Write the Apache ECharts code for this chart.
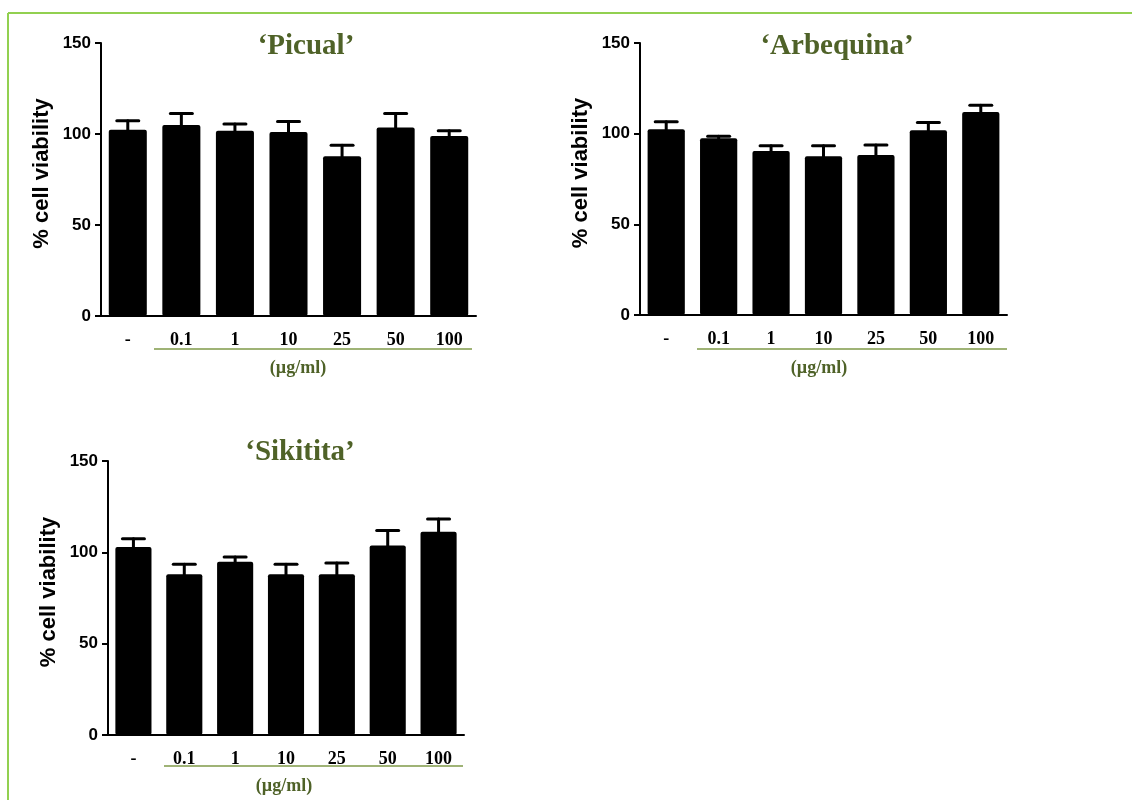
<!DOCTYPE html>
<html>
<head>
<meta charset="utf-8">
<script src="https://cdn.jsdelivr.net/npm/echarts@6/dist/echarts.min.js"></script>
<style>
html,body{margin:0;padding:0;background:#fff;}
#main{width:1132px;height:800px;}
</style>
</head>
<body>
<div id="main"></div>
<script>
// ---- data ----
var categories = ['-', '0.1', '1', '10', '25', '50', '100'];
var yTicks = [0, 50, 100, 150];
var titles = ['\u2018Picual\u2019', '\u2018Arbequina\u2019', '\u2018Sikitita\u2019'];
var picualMean = [102.4, 104.9, 101.8, 101.1, 87.8, 103.6, 98.9];
var picualErr  = [4.9, 6.4, 3.7, 5.8, 6.0, 7.7, 2.9];
var arbequinaMean = [102.4, 97.5, 90.5, 87.6, 88.3, 101.9, 112.0];
var arbequinaErr  = [4.2, 1.1, 2.8, 5.7, 5.5, 4.3, 3.7];
var sikititaMean = [102.9, 88.0, 94.8, 88.0, 88.0, 103.7, 111.2];
var sikititaErr  = [4.6, 5.5, 2.7, 5.5, 6.2, 8.3, 7.1];
var unitLabel = '(\u00b5g/ml)';
var yName = '% cell viability';

var means = [picualMean, arbequinaMean, sikititaMean];
var errs = [picualErr, arbequinaErr, sikititaErr];

var grids = [
  {left: 101, top: 43, width: 375, height: 273},
  {left: 640, top: 43, width: 367, height: 272},
  {left: 108, top: 461, width: 356, height: 274}
];
var titlePos = [[306, 47], [837, 47], [300, 453]];
var linePos = [[154, 472, 349], [697, 1007, 349], [164, 463, 766]];
var unitPos = [[298, 368], [819, 368], [284, 786]];

var olive = '#4f6228';
var lineGreen = '#7f9a48';

var xAxes = [], yAxes = [], series = [], graphics = [];
grids.forEach(function (g, i) {
  xAxes.push({
    type: 'category', gridIndex: i, data: categories,
    axisLine: {lineStyle: {color: '#000', width: 2}},
    axisTick: {alignWithLabel: true, length: 6, lineStyle: {color: '#000', width: 2}},
    axisLabel: {color: '#000', fontFamily: 'Liberation Serif', fontWeight: 'bold', fontSize: 18, margin: 15}
  });
  yAxes.push({
    type: 'value', gridIndex: i, min: 0, max: 150, interval: 50,
    name: yName, nameLocation: 'middle', nameRotate: 90, nameGap: 48,
    nameTextStyle: {color: '#000', fontFamily: 'Liberation Sans', fontWeight: 'bold', fontSize: 22, padding: [0, 0, 0, 12]},
    axisLine: {show: true, lineStyle: {color: '#000', width: 2}},
    axisTick: {show: true, length: 6, lineStyle: {color: '#000', width: 2}},
    axisLabel: {color: '#000', fontFamily: 'Liberation Sans', fontWeight: 'bold', fontSize: 17, margin: 10},
    splitLine: {show: false}
  });
  series.push({
    type: 'bar', xAxisIndex: i, yAxisIndex: i, data: means[i],
    barWidth: '71%', itemStyle: {color: '#000', borderRadius: 2}, z: 2
  });
  var ed = means[i].map(function (m, k) { return [k, m, errs[i][k]]; });
  series.push({
    type: 'custom', xAxisIndex: i, yAxisIndex: i, data: ed, z: 3,
    renderItem: function (params, api) {
      var x = api.value(0), m = api.value(1), e = api.value(2);
      var p0 = api.coord([x, m]);
      var p1 = api.coord([x, m + e]);
      var hw = 11;
      var st = {stroke: '#000', lineWidth: 3, lineCap: 'round'};
      return {type: 'group', children: [
        {type: 'line', shape: {x1: p0[0], y1: p0[1], x2: p1[0], y2: p1[1]}, style: st},
        {type: 'line', shape: {x1: p1[0] - hw, y1: p1[1], x2: p1[0] + hw, y2: p1[1]}, style: st}
      ]};
    }
  });
  graphics.push({
    type: 'text', x: titlePos[i][0], y: titlePos[i][1],
    style: {text: titles[i], fill: olive, font: 'bold 29px "Liberation Serif"', textAlign: 'center', textVerticalAlign: 'middle'}
  });
  graphics.push({
    type: 'line', shape: {x1: linePos[i][0], y1: linePos[i][2], x2: linePos[i][1], y2: linePos[i][2]},
    style: {stroke: lineGreen, lineWidth: 1.5}
  });
  graphics.push({
    type: 'text', x: unitPos[i][0], y: unitPos[i][1],
    style: {text: unitLabel, fill: olive, font: 'bold 18px "Liberation Serif"', textAlign: 'center', textVerticalAlign: 'middle'}
  });
});
// frame
graphics.push({type: 'line', shape: {x1: 8, y1: 13, x2: 1132, y2: 13}, style: {stroke: '#92d050', lineWidth: 2}});
graphics.push({type: 'line', shape: {x1: 8, y1: 13, x2: 8, y2: 800}, style: {stroke: '#92d050', lineWidth: 2}});

var chart = echarts.init(document.getElementById('main'));
chart.setOption({
  animation: false,
  backgroundColor: '#fff',
  grid: grids,
  xAxis: xAxes,
  yAxis: yAxes,
  series: series,
  graphic: graphics
});
</script>
</body>
</html>
